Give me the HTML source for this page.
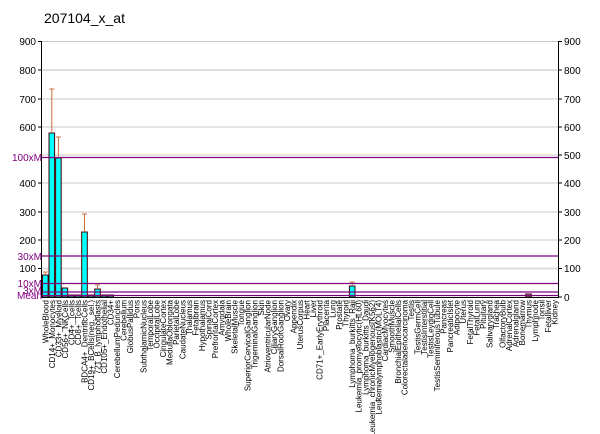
<!DOCTYPE html>
<html><head><meta charset="utf-8"><style>body{margin:0;background:#fff}svg{display:block;font-family:"Liberation Sans",sans-serif}</style></head><body>
<svg width="600" height="434" viewBox="0 0 600 434" xmlns="http://www.w3.org/2000/svg">
<text x="44" y="23" font-size="14" fill="#000">207104_x_at</text>
<g stroke="#c8c8c8" stroke-width="1">
<line x1="42" y1="41.5" x2="558" y2="41.5"/><line x1="42" y1="70" x2="558" y2="70" stroke-width="2" stroke="#ddd"/><line x1="42" y1="99" x2="558" y2="99"/><line x1="42" y1="127" x2="558" y2="127"/><line x1="42" y1="155" x2="558" y2="155"/><line x1="42" y1="183" x2="558" y2="183"/><line x1="42" y1="212" x2="558" y2="212"/><line x1="42" y1="240" x2="558" y2="240"/><line x1="42" y1="268.5" x2="558" y2="268.5" stroke-width="2" stroke="#ddd"/>
</g>
<g stroke="#000"><line x1="41.5" y1="41" x2="41.5" y2="297"/><line x1="558.5" y1="41" x2="558.5" y2="297"/><line x1="38" y1="41.5" x2="41.5" y2="41.5"/><line x1="558.5" y1="41.5" x2="562" y2="41.5"/><line x1="558.5" y1="70" x2="562" y2="70"/><line x1="558.5" y1="99" x2="562" y2="99"/><line x1="558.5" y1="127" x2="562" y2="127"/><line x1="558.5" y1="155" x2="562" y2="155"/><line x1="558.5" y1="183" x2="562" y2="183"/><line x1="558.5" y1="212" x2="562" y2="212"/><line x1="558.5" y1="240" x2="562" y2="240"/><line x1="558.5" y1="268.5" x2="562" y2="268.5"/><line x1="558.5" y1="297" x2="562" y2="297"/><line x1="38" y1="70" x2="41.5" y2="70"/><line x1="38" y1="99" x2="41.5" y2="99"/><line x1="38" y1="127" x2="41.5" y2="127"/><line x1="38" y1="183" x2="41.5" y2="183"/><line x1="38" y1="212" x2="41.5" y2="212"/><line x1="38" y1="240" x2="41.5" y2="240"/><line x1="38" y1="268.5" x2="41.5" y2="268.5"/></g>
<g font-size="10" fill="#000" text-anchor="end">
<text x="36" y="45">900</text><text x="36" y="74">800</text><text x="36" y="103">700</text><text x="36" y="131">600</text><text x="36" y="187">400</text><text x="36" y="216">300</text><text x="36" y="244">200</text><text x="36" y="272">100</text></g>
<g font-size="10" fill="#000"><text x="564" y="45">900</text><text x="564" y="74">800</text><text x="564" y="103">700</text><text x="564" y="131">600</text><text x="564" y="159">500</text><text x="564" y="187">400</text><text x="564" y="216">300</text><text x="564" y="244">200</text><text x="564" y="272">100</text><text x="564" y="301">0</text></g>
<g fill="#00ffff" stroke="#400000" stroke-width="1">
<rect x="42.5" y="275" width="5.6" height="22"/>
<rect x="49" y="133" width="5.6" height="164"/>
<rect x="55.6" y="158" width="5.6" height="139"/>
<rect x="62.1" y="288" width="5.6" height="9"/>
<rect x="68.6" y="295" width="5.6" height="2"/><rect x="75.2" y="295" width="5.6" height="2"/>
<rect x="81.7" y="232" width="5.6" height="65"/>
<rect x="88.2" y="295" width="5.6" height="2"/>
<rect x="94.7" y="289" width="5.6" height="8"/>
<rect x="101.3" y="295" width="5.6" height="2"/>
<rect x="107.8" y="295" width="5.6" height="2"/>
<rect x="349.4" y="286" width="5.6" height="11"/>
<rect x="525.7" y="294" width="5.6" height="3" fill="#aaa"/>
</g>
<g stroke="#c87040" stroke-width="1">
<line x1="51.8" y1="89" x2="51.8" y2="133"/><line x1="49.3" y1="89" x2="54.3" y2="89"/>
<line x1="58.4" y1="137" x2="58.4" y2="158"/><line x1="55.9" y1="137" x2="60.9" y2="137"/>
<line x1="45.3" y1="272" x2="45.3" y2="275"/><line x1="42.8" y1="272" x2="47.8" y2="272"/>
<line x1="84.5" y1="214" x2="84.5" y2="232"/><line x1="82" y1="214" x2="87" y2="214"/>
<line x1="97.5" y1="285" x2="97.5" y2="289"/><line x1="95" y1="285" x2="100" y2="285"/>
<line x1="352.2" y1="282" x2="352.2" y2="286"/><line x1="349.7" y1="282" x2="354.7" y2="282"/>
</g>
<g stroke="#800080" stroke-width="1.2">
<line x1="42" y1="157.5" x2="558" y2="157.5"/><line x1="42" y1="256" x2="558" y2="256"/><line x1="42" y1="283.5" x2="558" y2="283.5"/><line x1="42" y1="292" x2="558" y2="292"/><line x1="42" y1="295.5" x2="558" y2="295.5"/></g>
<line x1="41" y1="297.5" x2="559" y2="297.5" stroke="#000"/>
<g font-size="10" fill="#800080" text-anchor="end"><text x="42" y="161">100xM</text><text x="42" y="260">30xM</text><text x="42" y="287">10xM</text><text x="42" y="294">3xM</text><text x="42" y="299">Mean</text></g>
<g font-size="8" fill="#000" text-anchor="end">
<text transform="translate(48.3,300) rotate(-90)">WholeBlood</text>
<text transform="translate(54.8,300) rotate(-90)">CD14+_Monocytes</text>
<text transform="translate(61.4,300) rotate(-90)">CD33+_Myeloid</text>
<text transform="translate(67.9,300) rotate(-90)">CD56+_NKCells</text>
<text transform="translate(74.4,300) rotate(-90)">CD4+_Tcells</text>
<text transform="translate(81,300) rotate(-90)">CD8+_Tcells</text>
<text transform="translate(87.5,300) rotate(-90)">BDCA4+_DentriticCells</text>
<text transform="translate(94,300) rotate(-90)">CD19+_BCells(neg._sel.)</text>
<text transform="translate(100.5,300) rotate(-90)">721_B_lymphoblasts</text>
<text transform="translate(107.1,300) rotate(-90)">CD105+_Endothelial</text>
<text transform="translate(113.6,300) rotate(-90)">CD34+</text>
<text transform="translate(120.1,300) rotate(-90)">CerebellumPeduncles</text>
<text transform="translate(126.7,300) rotate(-90)">Cerebellum</text>
<text transform="translate(133.2,300) rotate(-90)">GlobusPallidus</text>
<text transform="translate(139.7,300) rotate(-90)">Pons</text>
<text transform="translate(146.3,300) rotate(-90)">SubthalamicNucleus</text>
<text transform="translate(152.8,300) rotate(-90)">TemporalLobe</text>
<text transform="translate(159.3,300) rotate(-90)">OccipitalLobe</text>
<text transform="translate(165.8,300) rotate(-90)">CingulateCortex</text>
<text transform="translate(172.4,300) rotate(-90)">MedullaOblongata</text>
<text transform="translate(178.9,300) rotate(-90)">ParietalLobe</text>
<text transform="translate(185.4,300) rotate(-90)">CaudateNucleus</text>
<text transform="translate(192,300) rotate(-90)">Thalamus</text>
<text transform="translate(198.5,300) rotate(-90)">Fetalbrain</text>
<text transform="translate(205,300) rotate(-90)">Hypothalamus</text>
<text transform="translate(211.6,300) rotate(-90)">SpinalCord</text>
<text transform="translate(218.1,300) rotate(-90)">PrefrontalCortex</text>
<text transform="translate(224.6,300) rotate(-90)">Amygdala</text>
<text transform="translate(231.1,300) rotate(-90)">WholeBrain</text>
<text transform="translate(237.7,300) rotate(-90)">SkeletalMuscle</text>
<text transform="translate(244.2,300) rotate(-90)">Tongue</text>
<text transform="translate(250.7,300) rotate(-90)">SuperiorCervicalGanglion</text>
<text transform="translate(257.3,300) rotate(-90)">TrigeminalGanglion</text>
<text transform="translate(263.8,300) rotate(-90)">Skin</text>
<text transform="translate(270.3,300) rotate(-90)">AtrioventricularNode</text>
<text transform="translate(276.9,300) rotate(-90)">CiliaryGanglion</text>
<text transform="translate(283.4,300) rotate(-90)">DorsalRootGanglion</text>
<text transform="translate(289.9,300) rotate(-90)">Ovary</text>
<text transform="translate(296.4,300) rotate(-90)">Appendix</text>
<text transform="translate(303,300) rotate(-90)">UterusCorpus</text>
<text transform="translate(309.5,300) rotate(-90)">Heart</text>
<text transform="translate(316,300) rotate(-90)">Liver</text>
<text transform="translate(322.6,300) rotate(-90)">CD71+_EarlyErythroid</text>
<text transform="translate(329.1,300) rotate(-90)">Placenta</text>
<text transform="translate(335.6,300) rotate(-90)">Lung</text>
<text transform="translate(342.2,300) rotate(-90)">Prostate</text>
<text transform="translate(348.7,300) rotate(-90)">Thyroid</text>
<text transform="translate(355.2,300) rotate(-90)">Lymphoma_burkitts_Raji</text>
<text transform="translate(361.7,300) rotate(-90)">Leukemia_promyelocytic(HL60)</text>
<text transform="translate(368.3,300) rotate(-90)">Lymphoma_burkitts_Daudi</text>
<text transform="translate(374.8,300) rotate(-90)">Leukemia_chronicMyelogenous(K562)</text>
<text transform="translate(381.3,300) rotate(-90)">Leukemialymphoblastic(MOLT4)</text>
<text transform="translate(387.9,300) rotate(-90)">CardiacMyocytes</text>
<text transform="translate(394.4,300) rotate(-90)">SmoothMuscle</text>
<text transform="translate(400.9,300) rotate(-90)">BronchialEpithelialCells</text>
<text transform="translate(407.5,300) rotate(-90)">Colorectaladenocarcinoma</text>
<text transform="translate(414,300) rotate(-90)">Testis</text>
<text transform="translate(420.5,300) rotate(-90)">TestisGermCell</text>
<text transform="translate(427,300) rotate(-90)">TestisInterstitial</text>
<text transform="translate(433.6,300) rotate(-90)">TestisLeydigCell</text>
<text transform="translate(440.1,300) rotate(-90)">TestisSeminiferousTubule</text>
<text transform="translate(446.6,300) rotate(-90)">Pancreas</text>
<text transform="translate(453.2,300) rotate(-90)">PancreaticIslet</text>
<text transform="translate(459.7,300) rotate(-90)">Adipocyte</text>
<text transform="translate(466.2,300) rotate(-90)">Uterus</text>
<text transform="translate(472.8,300) rotate(-90)">FetalThyroid</text>
<text transform="translate(479.3,300) rotate(-90)">FetalLung</text>
<text transform="translate(485.8,300) rotate(-90)">Pituitary</text>
<text transform="translate(492.3,300) rotate(-90)">Salivarygland</text>
<text transform="translate(498.9,300) rotate(-90)">Trachea</text>
<text transform="translate(505.4,300) rotate(-90)">OlfactoryBulb</text>
<text transform="translate(511.9,300) rotate(-90)">AdrenalCortex</text>
<text transform="translate(518.5,300) rotate(-90)">Adrenalgland</text>
<text transform="translate(525,300) rotate(-90)">Bonemarrow</text>
<text transform="translate(531.5,300) rotate(-90)">Thymus</text>
<text transform="translate(538.1,300) rotate(-90)">Lymphnode</text>
<text transform="translate(544.6,300) rotate(-90)">Tonsil</text>
<text transform="translate(551.1,300) rotate(-90)">Fetalliver</text>
<text transform="translate(557.6,300) rotate(-90)">Kidney</text>
</g>
</svg>
</body></html>
